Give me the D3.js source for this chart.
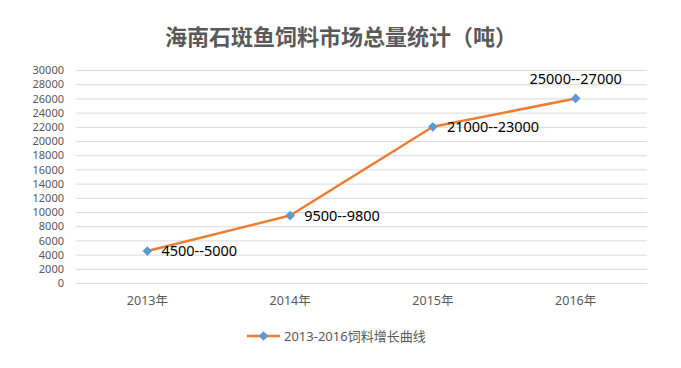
<!DOCTYPE html>
<html><head><meta charset="utf-8">
<script src="https://cdn.jsdelivr.net/npm/d3@7"></script>
<style>body{margin:0;background:#fff}svg{display:block}</style>
</head><body>
<svg id="c" width="681" height="368"></svg>
<script>
const categories = ["2013年", "2014年", "2015年", "2016年"];
const values = [4500, 9500, 22000, 26000];
const pointLabels = ["4500--5000", "9500--9800", "21000--23000", "25000--27000"];
const yTicks = d3.range(0, 30001, 2000);
const seriesName = "2013-2016饲料增长曲线";
const title = "海南石斑鱼饲料市场总量统计（吨）";

const svg = d3.select("#c");
const font = "'Noto Sans','Noto Sans CJK SC',sans-serif";
const m = {l: 76, r: 647, t: 70, b: 283};
const x = d3.scaleBand().domain(categories).range([m.l, m.r]);
const y = d3.scaleLinear().domain([0, 30000]).range([m.b, m.t]);

svg.append("text").attr("x", 341).attr("y", 45).attr("text-anchor", "middle")
  .attr("font-family", "'Noto Sans CJK SC',sans-serif").attr("font-weight", "bold")
  .attr("font-size", 22).attr("fill", "#595959").text(title);

const ya = svg.append("g").attr("transform", `translate(${m.l},0)`)
  .call(d3.axisLeft(y).tickValues(yTicks).tickSize(-(m.r - m.l)).tickPadding(12).tickFormat(d3.format("d")));
ya.select(".domain").remove();
ya.selectAll(".tick line").attr("stroke", "#d9d9d9");
ya.selectAll(".tick text").attr("font-family", font).attr("font-size", 11).attr("fill", "#595959")
  .attr("dy", "0.34em");

const xa = svg.append("g").attr("transform", `translate(0,${m.b})`)
  .call(d3.axisBottom(x).tickSize(0).tickPadding(13));
xa.select(".domain").remove();
xa.selectAll(".tick text").attr("font-family", font).attr("font-size", 12.5).attr("fill", "#595959");

const cx = d => x(d) + x.bandwidth() / 2;
const line = d3.line().x((d, i) => cx(categories[i])).y(d => y(d));
svg.append("path").datum(values).attr("d", line).attr("fill", "none")
  .attr("stroke", "#ED7D31").attr("stroke-width", 2.5).attr("stroke-linejoin", "round");

const diamond = d3.symbol().type(d3.symbolDiamond2).size(60);
svg.selectAll(".pt").data(values).enter().append("path")
  .attr("d", diamond).attr("fill", "#5B9BD5")
  .attr("transform", (d, i) => `translate(${cx(categories[i])},${y(d)})`);

svg.selectAll(".lb").data(values).enter().append("text")
  .attr("font-family", font).attr("font-size", 14.5).attr("fill", "#000")
  .attr("x", (d, i) => i === 3 ? cx(categories[i]) : cx(categories[i]) + 14)
  .attr("y", (d, i) => i === 3 ? y(d) - 14 : y(d) + 5)
  .attr("text-anchor", (d, i) => i === 3 ? "middle" : "start")
  .text((d, i) => pointLabels[i]);

const lg = svg.append("g").attr("transform", "translate(247,336)");
lg.append("line").attr("x1", 0).attr("x2", 33).attr("stroke", "#ED7D31").attr("stroke-width", 2.5);
lg.append("path").attr("d", diamond).attr("fill", "#5B9BD5").attr("transform", "translate(16.5,0)");
lg.append("text").attr("x", 37).attr("y", 4.5).attr("font-family", font).attr("font-size", 13)
  .attr("fill", "#595959").text(seriesName);
</script>
</body></html>
